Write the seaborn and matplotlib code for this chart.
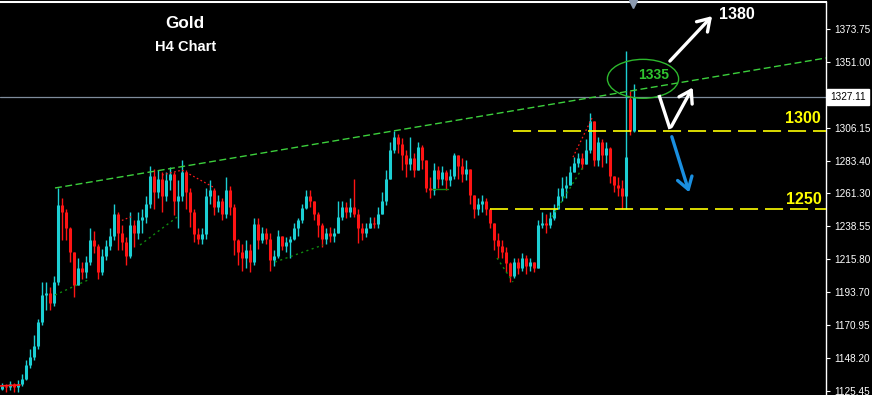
import numpy as np
import pandas as pd
import matplotlib
matplotlib.use("Agg")
import matplotlib.pyplot as plt
from matplotlib.patches import Ellipse
import seaborn as sns

# ---------------- data (Gold, H4 bars) ----------------
opens = [1127,1129,1128,1130,1128,1130,1134,1143,1149,1156,
         1173,1191,1193,1186,1200,1253,1248,1237,1221,1198,
         1210,1207,1214,1229,1225,1207,1218,1225,1232,1247,
         1234,1228,1218,1239,1234,1243,1245,1254,1273,1262,
         1271,1259,1270,1274,1256,1259,1276,1262,1248,1233,
         1230,1233,1259,1263,1252,1256,1247,1263,1252,1229,
         1221,1217,1222,1214,1240,1229,1234,1230,1215,1218,
         1232,1225,1228,1230,1237,1243,1251,1259,1256,1247,
         1239,1230,1234,1232,1234,1245,1252,1248,1252,1247,
         1237,1234,1237,1241,1240,1247,1256,1271,1291,1300,
         1295,1287,1281,1285,1277,1293,1284,1265,1263,1277,
         1271,1276,1270,1273,1287,1280,1274,1278,1260,1250,
         1254,1256,1250,1241,1229,1225,1221,1213,1204,1214,
         1210,1217,1211,1214,1210,1239,1241,1239,1244,1250,
         1259,1265,1267,1276,1282,1285,1281,1291,1311,1284,
         1296,1287,1292,1273,1267,1265,1259,1326,1304]
highs = [1131,1130,1132,1131,1133,1137,1147,1154,1164,1175,
         1200,1200,1197,1204,1265,1258,1250,1238,1219,1217,
         1214,1218,1237,1235,1226,1223,1229,1237,1254,1248,
         1239,1231,1248,1243,1248,1250,1259,1280,1278,1277,
         1276,1276,1279,1276,1270,1284,1277,1265,1250,1237,
         1237,1265,1270,1265,1260,1258,1272,1266,1254,1230,
         1226,1229,1226,1244,1244,1238,1237,1234,1222,1236,
         1232,1231,1232,1241,1244,1254,1263,1263,1256,1248,
         1241,1237,1238,1237,1256,1256,1255,1258,1271,1250,
         1241,1241,1245,1245,1252,1262,1277,1296,1304,1302,
         1299,1291,1300,1289,1296,1294,1280,1272,1282,1280,
         1280,1277,1278,1289,1287,1285,1284,1277,1258,1258,
         1260,1258,1251,1238,1234,1229,1224,1214,1217,1217,
         1220,1219,1217,1214,1243,1248,1247,1248,1254,1265,
         1272,1273,1280,1286,1289,1289,1298,1316,1306,1300,
         1298,1296,1293,1273,1272,1270,1359,1331,1336]
lows = [1126,1125,1126,1125,1125,1129,1133,1141,1147,1154,
        1171,1181,1181,1184,1198,1229,1229,1214,1190,1198,
        1202,1203,1212,1220,1202,1205,1215,1222,1229,1222,
        1222,1212,1217,1224,1230,1234,1241,1251,1250,1258,
        1248,1256,1263,1246,1237,1256,1250,1238,1228,1226,
        1226,1230,1254,1246,1248,1243,1244,1246,1219,1212,
        1208,1210,1207,1212,1223,1227,1226,1208,1211,1217,
        1222,1221,1217,1229,1232,1241,1250,1252,1243,1231,
        1224,1226,1228,1228,1236,1243,1244,1245,1245,1227,
        1229,1231,1237,1237,1237,1250,1253,1271,1289,1289,
        1277,1272,1277,1272,1280,1278,1262,1258,1260,1265,
        1267,1263,1266,1271,1271,1269,1270,1254,1244,1246,
        1248,1246,1237,1222,1217,1217,1207,1200,1203,1206,
        1208,1206,1208,1207,1210,1237,1234,1237,1243,1253,
        1256,1258,1267,1276,1279,1278,1283,1289,1280,1280,
        1279,1282,1268,1262,1259,1250,1250,1301,1303]
closes = [1129,1128,1130,1128,1130,1134,1143,1149,1156,1173,
          1191,1193,1186,1200,1253,1248,1237,1221,1198,1210,
          1207,1214,1229,1225,1207,1218,1225,1232,1247,1234,
          1228,1218,1239,1234,1243,1245,1254,1273,1262,1271,
          1259,1270,1274,1256,1259,1276,1262,1248,1233,1230,
          1233,1259,1263,1252,1256,1247,1263,1252,1229,1221,
          1217,1222,1214,1240,1229,1234,1230,1215,1218,1232,
          1225,1228,1230,1237,1243,1251,1259,1256,1247,1239,
          1230,1234,1232,1234,1245,1252,1248,1252,1247,1237,
          1234,1237,1241,1240,1247,1256,1271,1291,1300,1295,
          1287,1281,1285,1277,1293,1284,1265,1263,1277,1271,
          1276,1270,1273,1287,1280,1274,1278,1260,1250,1254,
          1256,1250,1241,1229,1225,1221,1213,1204,1214,1210,
          1217,1211,1214,1210,1239,1241,1239,1244,1250,1259,
          1265,1267,1276,1282,1285,1281,1291,1311,1284,1296,
          1287,1292,1273,1267,1265,1259,1286,1304,1327]

last_price = 1327.11
price_ticks = [1373.75, 1351.00, 1306.15, 1283.40, 1261.30, 1238.55,
               1215.80, 1193.70, 1170.95, 1148.20, 1125.45]

# trend / support lines (bar index, price)
trend_x = [13.25, 206.0]
trend_y = [1264.7, 1353.9]
support_x = [[13.25, 21.5], [34.5, 43.75], [68.25, 80.25], [123.75, 127.75], [137.5, 145.25]]
support_y = [[1191.3, 1201.6], [1225.6, 1244.7], [1213.9, 1225.6], [1216.7, 1200.2], [1244.8, 1279.1]]
flat_x = [107.5, 111.5]
flat_y = [1264.0, 1264.0]
red_x = [[29, 32.75], [40, 45, 52.75], [142.75, 147.5]]
red_y = [[1241.4, 1245.5], [1273.6, 1277.0, 1265.4], [1285.9, 1312.7]]
red_start_x = [-0.5, 4.5]
red_start_y = [1128.9, 1129.6]

level_1300 = 1303.8
level_1250 = 1250.3
level_1300_start = 127.75
level_1250_start = 122.0

# ---------------- style ----------------
sns.set_theme(style="dark", rc={"axes.facecolor": "black", "figure.facecolor": "black"})
plt.rcParams["font.family"] = ["Liberation Sans", "DejaVu Sans"]
plt.rcParams["lines.scale_dashes"] = False

UP = "#1ccfd4"
DN = "#ff1414"

fig = plt.figure(figsize=(8.72, 3.95), dpi=100)
ax = fig.add_axes([0, 0, 826 / 872, 393 / 395])
ax.set_facecolor("black")

df = pd.DataFrame({"open": opens, "high": highs, "low": lows, "close": closes})
df["x"] = np.arange(len(df))
df["up"] = df["close"] >= df["open"]
cols = np.where(df["up"], UP, DN)
top = np.maximum(df["open"], df["close"])
bot = np.minimum(df["open"], df["close"])
hi = np.maximum(df["high"], top)
lo = np.minimum(df["low"], bot)

ax.vlines(df["x"], lo, hi, colors=cols, lw=1.0, zorder=3)
ax.vlines(df["x"], bot, np.maximum(top, bot + 0.6), colors=cols, lw=2.2, zorder=3)

# main green dashed trend line
sns.lineplot(x=trend_x, y=trend_y, ax=ax, color="#3ccf3c", lw=1.0, zorder=4)
ax.lines[-1].set_dashes([5, 2.5])

for xs, ys in zip(support_x, support_y):
    ax.plot(xs, ys, color="#0f8a0f", lw=1.0, dashes=[1.5, 2.5], zorder=4)
ax.plot(flat_x, flat_y, color="#0f8a0f", lw=1.0, zorder=4)
for xs, ys in zip(red_x, red_y):
    ax.plot(xs, ys, color="#ff1a1a", lw=0.9, dashes=[1.2, 1.8], zorder=4)
ax.plot(red_start_x, red_start_y, color="#ff1a1a", lw=1.2, zorder=4)

# current price line
ax.axhline(last_price, color="#7f8c9c", lw=0.9, zorder=2)

# yellow levels
ax.hlines(level_1300, level_1300_start, 206, colors="#ffff00", lw=1.2, linestyles=(0, (13, 5)), zorder=4)
ax.hlines(level_1250, level_1250_start, 206, colors="#ffff00", lw=1.2, linestyles=(0, (13, 5)), zorder=4)
ax.text(204.6, 1312.7, "1300", color="#ffff00", fontsize=11.5, fontweight="bold", ha="right", va="center")
ax.text(205.0, 1257.1, "1250", color="#ffff00", fontsize=11.5, fontweight="bold", ha="right", va="center")

# ellipse + 1335
ax.add_patch(Ellipse((160.25, 1339.6), 17.8, 26.7, fill=False, edgecolor="#2db82d", lw=1.0, zorder=5))
ax.text(163.0, 1342.0, "1335", color="#2fc42f", fontsize=10, fontweight="bold", ha="center", va="center", zorder=6)

# arrows
ax.annotate("", xy=(178.0, 1384.0), xytext=(166.5, 1350.4),
            arrowprops=dict(arrowstyle="->,head_length=0.7,head_width=0.45", lw=2.4, color="white"), zorder=6)
ax.text(183.75, 1384.0, "1380", color="white", fontsize=11.5, fontweight="bold", ha="center", va="center")
ax.plot([164.25, 167.0], [1328.5, 1305.2], color="white", lw=2.4, solid_capstyle="butt", zorder=6)
ax.annotate("", xy=(173.0, 1335.3), xytext=(167.0, 1305.2),
            arrowprops=dict(arrowstyle="->,head_length=0.7,head_width=0.45", lw=2.4, color="white"), zorder=6)
ax.annotate("", xy=(172.0, 1259.9), xytext=(167.25, 1301.7),
            arrowprops=dict(arrowstyle="->,head_length=0.7,head_width=0.45", lw=2.4, color="#1a8fe0"), zorder=6)

# titles
ax.text(0.224, 0.946, "Gold", transform=ax.transAxes, color="white", fontsize=12.3,
        fontweight="bold", ha="center", va="center")
ax.text(0.225, 0.885, "H4 Chart", transform=ax.transAxes, color="white", fontsize=10.5,
        fontweight="bold", ha="center", va="center")

# shift marker
ax.plot([157.75], [1390.6], marker="v", color="#8c9bb0", ms=6, clip_on=False, zorder=7)

# axes
ax.set_xlim(-0.5, 206)
ax.set_ylim(1122.7, 1392.3)
ax.set_xticks([])
ax.yaxis.tick_right()
ax.set_yticks(price_ticks)
ax.set_yticklabels([f"{v:.2f}" for v in price_ticks])
ax.tick_params(axis="y", which="both", right=True, length=3, width=0.8, color="white",
               labelcolor="white", labelsize=7.2, pad=3)
ax.grid(False)
for s in ["left", "bottom"]:
    ax.spines[s].set_visible(False)
ax.spines["right"].set_color("white")
ax.spines["right"].set_linewidth(1.0)
ax.spines["top"].set_color("white")
ax.spines["top"].set_linewidth(1.5)

ax.annotate(f"{last_price:.2f}", xy=(1.0, last_price), xycoords=("axes fraction", "data"),
            xytext=(3, 0), textcoords="offset points", ha="left", va="center",
            fontsize=7.2, color="black",
            bbox=dict(boxstyle="square,pad=0.3", fc="white", ec="white"), zorder=10,
            annotation_clip=False)

fig.savefig("out.png", dpi=100, facecolor="black")
